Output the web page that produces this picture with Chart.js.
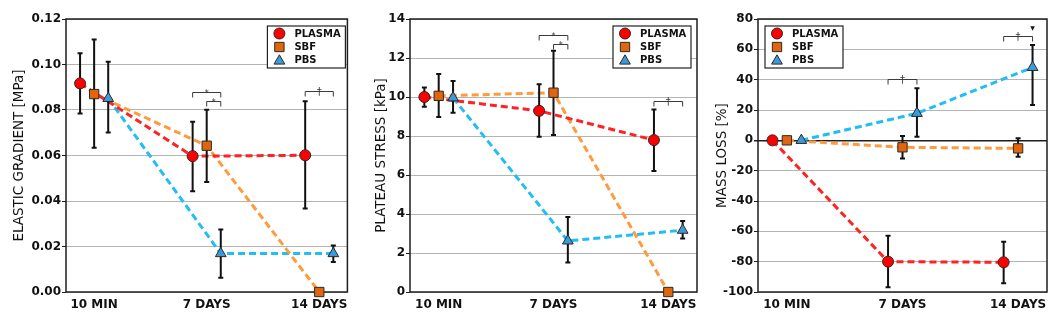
<!DOCTYPE html>
<html><head><meta charset="utf-8">
<script src="https://cdn.jsdelivr.net/npm/chart.js@4/dist/chart.umd.min.js"></script>
<style>
html,body{margin:0;padding:0;background:#fff;}
#wrap{position:relative;width:1064px;height:325px;overflow:hidden;background:#fff}
canvas{position:absolute;top:0}
</style></head><body>
<div id="wrap">
<canvas id="c1" width="355" height="325" style="left:0px"></canvas>
<canvas id="c2" width="350" height="325" style="left:355px"></canvas>
<canvas id="c3" width="359" height="325" style="left:705px"></canvas>
</div>
<script>
const categories = ['10 MIN', '7 DAYS', '14 DAYS'];
const seriesNames = ['PLASMA', 'SBF', 'PBS'];
const groupOffsets = [-0.125, 0, 0.125];

// Panel 1: elastic gradient [MPa]
const elasticTicks = [0, 0.02, 0.04, 0.06, 0.08, 0.10, 0.12];
const elasticTickLabels = ['0.00', '0.02', '0.04', '0.06', '0.08', '0.10', '0.12'];
const elasticPlasma = [0.0917, 0.0597, 0.0601];
const elasticPlasmaLow = [0.0785, 0.0443, 0.0367];
const elasticPlasmaHigh = [0.1050, 0.0748, 0.0839];
const elasticSBF = [0.0870, 0.0643, 0.0];
const elasticSBFLow = [0.0634, 0.0484, null];
const elasticSBFHigh = [0.1110, 0.0801, null];
const elasticPBS = [0.0851, 0.0169, 0.0169];
const elasticPBSLow = [0.0701, 0.0063, 0.0132];
const elasticPBSHigh = [0.1012, 0.0275, 0.0204];
const elasticBrackets = [[0.875, 1.125, 0.0879, '*'], [1.0, 1.125, 0.0840, '*'], [1.875, 2.125, 0.0883, '†']];

// Panel 2: plateau stress [kPa]
const plateauTicks = [0, 2, 4, 6, 8, 10, 12, 14];
const plateauTickLabels = ['0', '2', '4', '6', '8', '10', '12', '14'];
const plateauPlasma = [10.0, 9.29, 7.79];
const plateauPlasmaLow = [9.5, 7.96, 6.21];
const plateauPlasmaHigh = [10.49, 10.65, 9.36];
const plateauSBF = [10.06, 10.22, 0.0];
const plateauSBFLow = [8.98, 8.05, null];
const plateauSBFHigh = [11.18, 12.37, null];
const plateauPBS = [9.96, 2.62, 3.17];
const plateauPBSLow = [9.19, 1.51, 2.74];
const plateauPBSHigh = [10.82, 3.85, 3.64];
const plateauBrackets = [[0.875, 1.125, 13.16, '*'], [1.0, 1.125, 12.74, '*'], [1.875, 2.125, 9.78, '†']];

// Panel 3: mass loss [%]
const massTicks = [-100, -80, -60, -40, -20, 0, 20, 40, 60, 80];
const massTickLabels = ['-100', '-80', '-60', '-40', '-20', '0', '20', '40', '60', '80'];
const massPlasma = [0, -80.0, -80.4];
const massPlasmaLow = [null, -96.9, -94.3];
const massPlasmaHigh = [null, -62.9, -66.8];
const massSBF = [0, -4.6, -5.3];
const massSBFLow = [null, -11.9, -10.8];
const massSBFHigh = [null, 2.8, 1.3];
const massPBS = [0, 17.8, 48.1];
const massPBSLow = [null, 2.4, 23.3];
const massPBSHigh = [null, 34.3, 62.9];
const massBrackets = [[0.875, 1.125, 40.2, '†'], [1.875, 2.125, 68.8, '†']];
const massMarks = [[2.125, 73.6, '▼']];

const FONT = 'DejaVu Sans';
const markerStyles = ['circle', 'rect', 'triangle'];
const markerRadii = [5.5, 6.6, 6.2];
const markerFills = ['#ff0000', '#e2650c', '#3c9ad8'];
const lineColors = ['#ff2222', '#ff9a3d', '#22bdf5'];

function drawMarker(ctx, style, x, y, r, fill) {
  ctx.beginPath();
  if (style === 'circle') ctx.arc(x, y, r, 0, Math.PI * 2);
  else if (style === 'rect') { const s = r * Math.SQRT1_2; ctx.rect(x - s, y - s, 2 * s, 2 * s); }
  else { ctx.moveTo(x, y - r); ctx.lineTo(x + r * 0.866, y + r / 2); ctx.lineTo(x - r * 0.866, y + r / 2); ctx.closePath(); }
  ctx.fillStyle = fill; ctx.fill();
  ctx.strokeStyle = '#2a2a2a'; ctx.lineWidth = 1; ctx.stroke();
}

const decorPlugin = {
  id: 'decor',
  beforeDatasetsDraw(chart) {
    const a = chart.chartArea, ctx = chart.ctx;
    ctx.save();
    ctx.strokeStyle = '#1e1e1e'; ctx.lineWidth = 1.5;
    ctx.strokeRect(a.left, a.top, a.right - a.left, a.bottom - a.top);
    ctx.restore();
    chart.$ebDone = false;
  },
  beforeDatasetDraw(chart, args) {
    const ds = chart.data.datasets[args.index];
    if (!ds.isMarker || chart.$ebDone) return;
    chart.$ebDone = true;
    const ctx = chart.ctx, xs = chart.scales.x, ys = chart.scales.y;
    ctx.save();
    ctx.strokeStyle = '#111'; ctx.lineWidth = 2;
    chart.data.datasets.forEach(d => {
      if (!d.isMarker) return;
      d.data.forEach((p, i) => {
        const lo = d.errLow[i], hi = d.errHigh[i];
        if (lo == null || hi == null) return;
        const px = xs.getPixelForValue(p.x);
        const y1 = ys.getPixelForValue(lo), y2 = ys.getPixelForValue(hi);
        ctx.beginPath();
        ctx.moveTo(px, y1); ctx.lineTo(px, y2);
        ctx.moveTo(px - 2.5, y1); ctx.lineTo(px + 2.5, y1);
        ctx.moveTo(px - 2.5, y2); ctx.lineTo(px + 2.5, y2);
        ctx.stroke();
      });
    });
    ctx.restore();
  },
  afterDraw(chart) {
    const o = chart.options.plugins.decor;
    const ctx = chart.ctx, xs = chart.scales.x, ys = chart.scales.y, a = chart.chartArea;
    ctx.save();
    // significance brackets
    o.brackets.forEach(b => {
      const x1 = xs.getPixelForValue(b[0]), x2 = xs.getPixelForValue(b[1]);
      const y = Math.round(ys.getPixelForValue(b[2])) + 0.5;
      ctx.strokeStyle = '#3a3a3a'; ctx.lineWidth = 1;
      ctx.beginPath();
      ctx.moveTo(x1, y + 5); ctx.lineTo(x1, y); ctx.lineTo(x2, y); ctx.lineTo(x2, y + 5);
      ctx.stroke();
      ctx.fillStyle = '#3a3a3a'; ctx.textAlign = 'center';
      if (b[3] === '*') {
        ctx.font = '8px ' + FONT; ctx.textBaseline = 'alphabetic';
        ctx.fillText('*', (x1 + x2) / 2, y + 3);
      } else {
        ctx.font = '10px ' + FONT; ctx.textBaseline = 'middle';
        ctx.fillText(b[3], (x1 + x2) / 2, y + 1);
      }
    });
    (o.marks || []).forEach(m => {
      ctx.fillStyle = '#111'; ctx.font = 'bold 6px ' + FONT; ctx.textAlign = 'center'; ctx.textBaseline = 'middle';
      ctx.fillText(m[2], xs.getPixelForValue(m[0]), ys.getPixelForValue(m[1]));
    });
    // legend
    const w = 78, h = 42;
    const left = o.legendSide === 'right' ? a.right - o.legendInset - w : a.left + o.legendInset;
    const top = a.top + 7;
    ctx.fillStyle = '#fff'; ctx.fillRect(left, top, w, h);
    ctx.strokeStyle = '#222'; ctx.lineWidth = 1.2; ctx.strokeRect(left, top, w, h);
    const rows = [7.5, 21, 34];
    seriesNames.forEach((n, i) => {
      drawMarker(ctx, markerStyles[i], left + 12, top + rows[i] + (i === 2 ? 1 : 0), markerRadii[i], markerFills[i]);
      ctx.fillStyle = '#111'; ctx.font = 'bold 10px ' + FONT; ctx.textAlign = 'left'; ctx.textBaseline = 'middle';
      ctx.fillText(n, left + 27, top + rows[i] + 0.5);
    });
    ctx.restore();
  }
};

function makePanel(id, p) {
  const values = [p.plasma, p.sbf, p.pbs];
  const lows = [p.plasmaLow, p.sbfLow, p.pbsLow];
  const highs = [p.plasmaHigh, p.sbfHigh, p.pbsHigh];
  const datasets = [];
  values.forEach((v, s) => {
    datasets.push({
      label: seriesNames[s] + ' line',
      data: categories.map((c, i) => ({ x: i + groupOffsets[s], y: v[i] })),
      borderColor: lineColors[s], borderWidth: 3, borderDash: [7, 4],
      pointRadius: 0, fill: false, tension: 0, order: 1, clip: false
    });
  });
  values.forEach((v, s) => {
    datasets.push({
      label: seriesNames[s],
      isMarker: true,
      errLow: lows[s], errHigh: highs[s],
      data: categories.map((c, i) => ({ x: i + groupOffsets[s], y: v[i] })),
      showLine: false,
      pointStyle: markerStyles[s], pointRadius: markerRadii[s],
      pointBackgroundColor: markerFills[s], pointBorderColor: '#2a2a2a', pointBorderWidth: 1,
      order: 0, clip: false
    });
  });
  const canvas = document.getElementById(id);
  new Chart(canvas, {
    type: 'line',
    data: { datasets },
    options: {
      responsive: false, animation: false, events: [],
      layout: { padding: { left: 0, top: 19, right: canvas.width - p.areaRight, bottom: 0 } },
      plugins: {
        legend: { display: false }, tooltip: { enabled: false },
        decor: { brackets: p.brackets, marks: p.marks, legendSide: p.legendSide, legendInset: p.legendInset }
      },
      scales: {
        x: {
          type: 'linear', min: -0.25, max: 2.25,
          afterBuildTicks: s => { s.ticks = categories.map((c, i) => ({ value: i })); },
          afterFit: s => { s.height = 33; },
          grid: { display: false, drawTicks: false },
          border: { display: false },
          ticks: {
            autoSkip: false, maxRotation: 0, padding: 6, color: '#111',
            font: { family: FONT, size: 12, weight: 'bold' },
            callback: v => categories[v]
          }
        },
        y: {
          type: 'linear', min: p.ticks[0], max: p.ticks[p.ticks.length - 1],
          afterBuildTicks: s => { s.ticks = p.ticks.map(v => ({ value: v })); },
          afterFit: s => { s.width = p.areaLeft; },
          grid: {
            color: ctx => (p.zeroDark && ctx.tick && ctx.tick.value === 0) ? '#1e1e1e' : '#b4b4b4',
            lineWidth: ctx => (p.zeroDark && ctx.tick && ctx.tick.value === 0) ? 1.5 : 1,
            drawTicks: true, tickLength: 4, tickColor: '#1e1e1e'
          },
          border: { display: false },
          ticks: {
            padding: 1, color: '#111',
            font: { family: FONT, size: 12, weight: 'bold' },
            callback: (v, i) => p.tickLabels[i]
          },
          title: {
            display: true, text: p.title, color: '#111',
            font: { family: FONT, size: 13.5, weight: 'normal' },
            padding: { top: p.titlePad, bottom: 0 }
          }
        }
      }
    },
    plugins: [decorPlugin]
  });
}

makePanel('c1', {
  plasma: elasticPlasma, plasmaLow: elasticPlasmaLow, plasmaHigh: elasticPlasmaHigh,
  sbf: elasticSBF, sbfLow: elasticSBFLow, sbfHigh: elasticSBFHigh,
  pbs: elasticPBS, pbsLow: elasticPBSLow, pbsHigh: elasticPBSHigh,
  ticks: elasticTicks, tickLabels: elasticTickLabels, brackets: elasticBrackets,
  title: 'ELASTIC GRADIENT [MPa]', areaLeft: 66, areaRight: 350, titlePad: 11,
  legendSide: 'right', legendInset: 2
});
makePanel('c2', {
  plasma: plateauPlasma, plasmaLow: plateauPlasmaLow, plasmaHigh: plateauPlasmaHigh,
  sbf: plateauSBF, sbfLow: plateauSBFLow, sbfHigh: plateauSBFHigh,
  pbs: plateauPBS, pbsLow: plateauPBSLow, pbsHigh: plateauPBSHigh,
  ticks: plateauTicks, tickLabels: plateauTickLabels, brackets: plateauBrackets,
  title: 'PLATEAU STRESS [kPa]', areaLeft: 55, areaRight: 342, titlePad: 18,
  legendSide: 'right', legendInset: 6
});
makePanel('c3', {
  plasma: massPlasma, plasmaLow: massPlasmaLow, plasmaHigh: massPlasmaHigh,
  sbf: massSBF, sbfLow: massSBFLow, sbfHigh: massSBFHigh,
  pbs: massPBS, pbsLow: massPBSLow, pbsHigh: massPBSHigh,
  ticks: massTicks, tickLabels: massTickLabels, brackets: massBrackets, marks: massMarks,
  title: 'MASS LOSS [%]', areaLeft: 53, areaRight: 342, titlePad: 9, zeroDark: true,
  legendSide: 'left', legendInset: 7
});
</script>
</body></html>
